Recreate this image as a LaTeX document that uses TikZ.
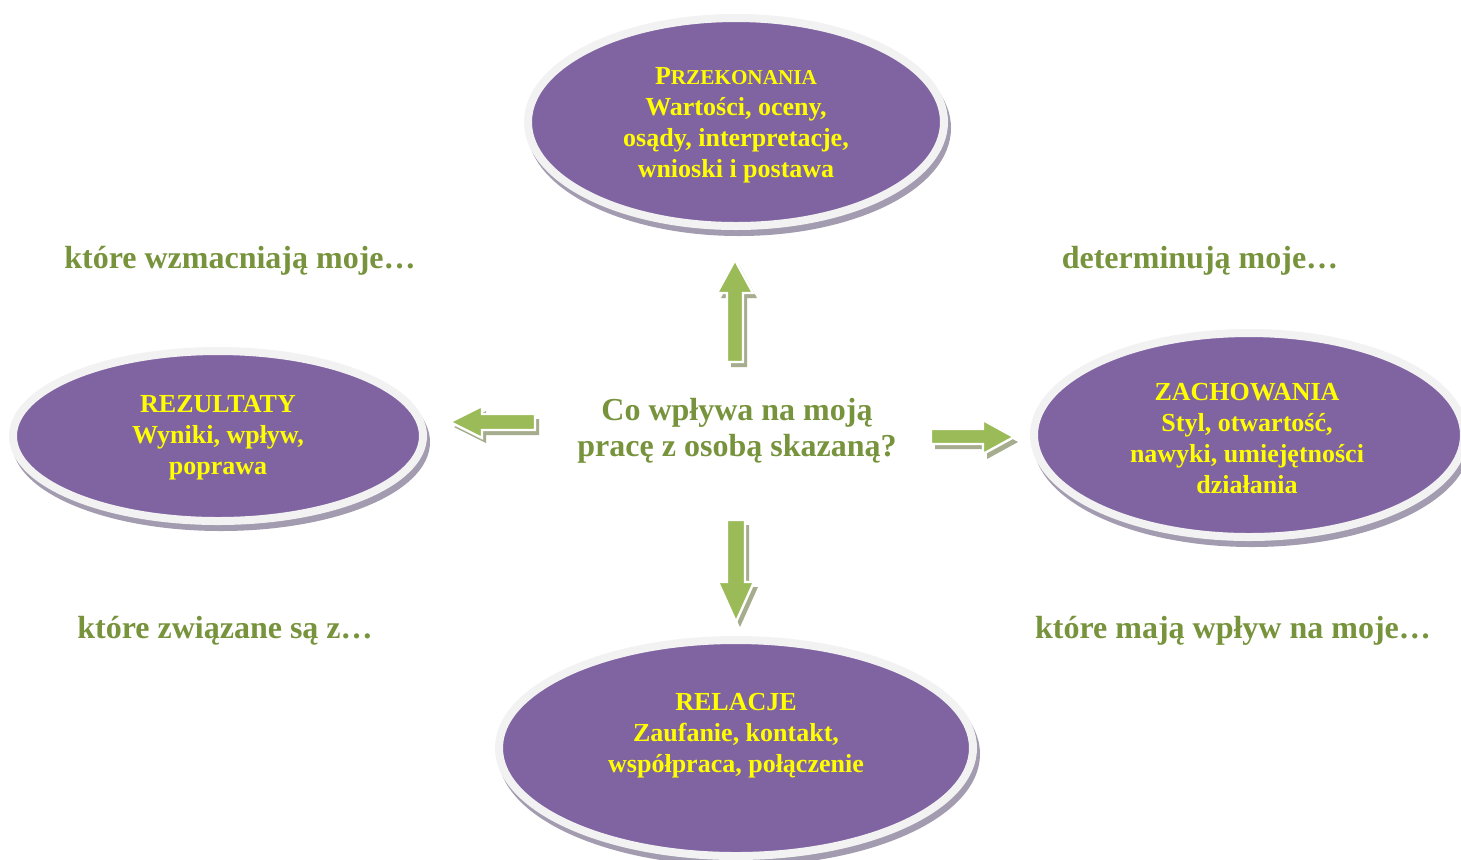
\documentclass[tikz,border=0pt]{standalone}
\usepackage{fontspec}
\setmainfont{Liberation Serif}
\usetikzlibrary{shapes.geometric}
\definecolor{epurple}{HTML}{8064A2}
\definecolor{erim}{HTML}{F2F2F2}
\definecolor{eshadow}{HTML}{A39BAF}
\definecolor{ltext}{HTML}{77933C}
\definecolor{agreen}{HTML}{9BBB59}
\definecolor{ashadow}{HTML}{A5AD8E}
\definecolor{etext}{HTML}{FFFF00}
\begin{document}
\begin{tikzpicture}[x=0.5pt,y=-0.5pt,
  oval/.style={ellipse, fill=epurple, draw=erim, line width=4pt, inner sep=0pt,
    preaction={fill=eshadow, draw=eshadow, line width=4pt, transform canvas={shift={(1.5pt,-3pt)}}}},
  ovaltext/.style={text=etext, font=\bfseries\fontsize{13}{15.5}\selectfont, align=center, inner sep=0pt},
  steptext/.style={text=ltext, font=\bfseries\fontsize{16}{18}\selectfont, align=center, inner sep=0pt},
  blockarrow/.style={fill=agreen, draw=white, line width=1.2pt, line join=miter},
  blockshadow/.style={fill=ashadow, shift={(4,5)}}]
\useasboundingbox (0,0) rectangle (1461,859);
\fill[white] (0,0) rectangle (1461,859);

% ellipses
\node[oval, minimum width=208pt, minimum height=104pt] (przek) at (736,122) {};
\node[oval, minimum width=205pt, minimum height=85pt] (rezul) at (218,436) {};
\node[oval, minimum width=215pt, minimum height=102pt] (zach) at (1249,435) {};
\node[oval, minimum width=237pt, minimum height=108pt] (rel) at (736,748) {};

\node[ovaltext] (przekt) at (736,125) {P{\fontsize{10.6}{15.5}\selectfont RZEKONANIA}\\Wartości, oceny,\\osądy, interpretacje,\\wnioski i postawa};
\node[ovaltext] (rezult) at (218,438) {REZULTATY\\Wyniki, wpływ,\\poprawa};
\node[ovaltext] (zacht) at (1247,439) {ZACHOWANIA\\Styl, otwartość,\\nawyki, umiejętności\\działania};
\node[ovaltext] (relt) at (736,736) {RELACJE\\Zaufanie, kontakt,\\współpraca, połączenie};

% center and side texts
\node[steptext] (center) at (737,431) {Co wpływa na moją\\pracę z osobą skazaną?};
\node[steptext, anchor=base] (l1) at (240,268) {które wzmacniają moje…};
\node[steptext, anchor=base] (l2) at (1200,268) {determinują moje…};
\node[steptext, anchor=base] (l3) at (225,638) {które związane są z…};
\node[steptext, anchor=base] (l4) at (1233,638) {które mają wpływ na moje…};

% block arrows
% up
\fill[blockshadow] (735,260) -- (753,293) -- (743,293) -- (743,362) -- (727,362) -- (727,293) -- (717,293) -- cycle;
\filldraw[blockarrow] (735,260) -- (753,293) -- (743,293) -- (743,362) -- (727,362) -- (727,293) -- (717,293) -- cycle;
% down
\fill[blockshadow] (736,622) -- (718,582) -- (727,582) -- (727,520) -- (745,520) -- (745,582) -- (754,582) -- cycle;
\filldraw[blockarrow] (736,622) -- (718,582) -- (727,582) -- (727,520) -- (745,520) -- (745,582) -- (754,582) -- cycle;
% left
\fill[blockshadow] (450,422) -- (482,406) -- (482,414) -- (535,414) -- (535,430) -- (482,430) -- (482,438) -- cycle;
\filldraw[blockarrow] (450,422) -- (482,406) -- (482,414) -- (535,414) -- (535,430) -- (482,430) -- (482,438) -- cycle;
% right
\fill[blockshadow] (1014,437) -- (983,420) -- (983,429) -- (931,429) -- (931,444) -- (983,444) -- (983,454) -- cycle;
\filldraw[blockarrow] (1014,437) -- (983,420) -- (983,429) -- (931,429) -- (931,444) -- (983,444) -- (983,454) -- cycle;
\end{tikzpicture}
\end{document}
